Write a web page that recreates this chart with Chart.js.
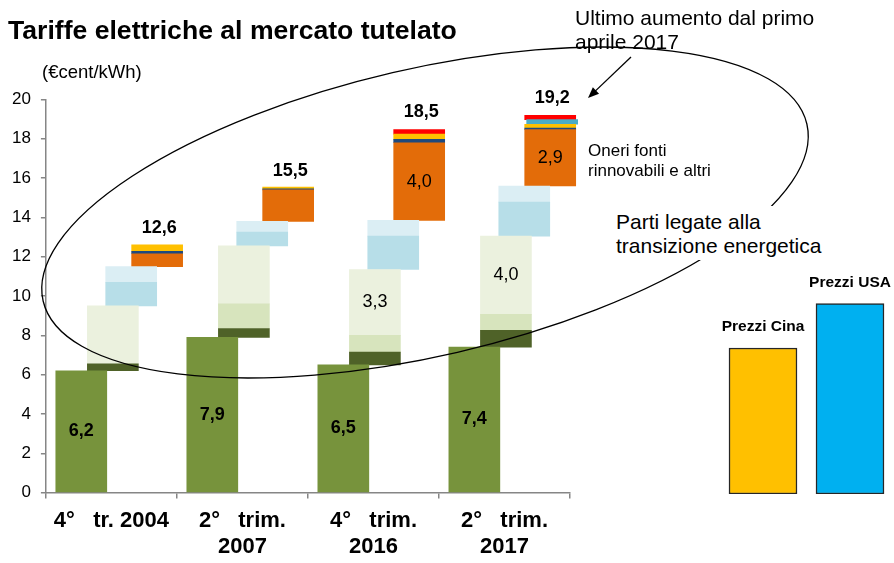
<!DOCTYPE html>
<html><head><meta charset="utf-8">
<script src="https://cdn.jsdelivr.net/npm/chart.js@4.4.1/dist/chart.umd.min.js"></script>
<style>
html,body{margin:0;padding:0;background:#fff;}
#wrap{position:relative;width:894px;height:563px;overflow:hidden;font-family:"Liberation Sans",Arial,sans-serif;}
canvas{position:absolute;top:0;}
.t{position:absolute;white-space:nowrap;color:#000;}
</style></head><body>
<div id="wrap">
<canvas id="main" width="894" height="563" style="left:0"></canvas>
<canvas id="side" width="179" height="563" style="left:715px"></canvas>
<div class="t" style="left:8px;top:17px;font-size:26.6px;line-height:26px;font-weight:bold">Tariffe elettriche al mercato tutelato</div>
<div class="t" style="left:42px;top:62px;font-size:18.5px;line-height:19px">(€cent/kWh)</div>
<div class="t" style="left:575px;top:6px;font-size:21px;line-height:24px">Ultimo aumento dal primo<br>aprile 2017</div>
<div class="t" style="left:588px;top:141px;font-size:17px;line-height:20px">Oneri fonti<br>rinnovabili e altri</div>
<div class="t" style="left:612px;top:206px;padding:4px 4px 2px 4px;font-size:21px;line-height:24px;background:#fff">Parti legate alla<br>transizione energetica</div>
</div>
<script>
// ---------- DATA ----------
const categories = ['4°   tr. 2004', ['2°   trim.', '2007'], ['4°   trim.', '2016'], ['2°   trim.', '2017']];
const totals = [12.6, 15.5, 18.5, 19.2];
const baseEnergy = [6.2, 7.9, 6.5, 7.4];
const baseLabels = ['6,2', '7,9', '6,5', '7,4'];
const segDarkGreen = [[6.2, 6.55], [7.9, 8.35], [6.5, 7.15], [7.4, 8.25]];
const segMidGreen = [null, [8.35, 9.6], [7.15, 8.0], [8.25, 9.07]];
const segLightGreen = [[6.55, 9.5], [9.6, 12.55], [8.0, 11.35], [9.07, 13.05]];
const lightGreenLabels = [null, null, '3,3', '4,0'];
const segBlue = [[9.5, 10.7], [12.55, 13.25], [11.35, 13.05], [13.05, 14.78]];
const segLightBlue = [[10.7, 11.5], [13.25, 13.8], [13.05, 13.85], [14.78, 15.6]];
const segOrange = [[11.5, 12.15], [13.8, 15.4], [13.85, 17.8], [15.6, 18.47]];
const orangeLabels = [null, null, '4,0', '2,9'];
const segNavy = [[12.15, 12.28], [15.4, 15.45], [17.8, 17.97], [18.47, 18.54]];
const segYellow = [[12.28, 12.6], [15.45, 15.55], [17.97, 18.24], [18.54, 18.74]];
const segTeal = [null, null, null, [18.74, 18.98]];
const segRed = [null, null, [18.24, 18.47], [18.98, 19.2]];
const yTicks = [0, 2, 4, 6, 8, 10, 12, 14, 16, 18, 20];
const sideCategories = ['Prezzi Cina', 'Prezzi USA'];
const sideValues = [7.4, 9.65];

// ---------- LAYOUT ----------
const COLS = [0.27, 0.511, 0.651, 0.849];
const FONT = '"Liberation Sans", Arial, sans-serif';
const fmt = v => v.toFixed(1).replace('.', ',');

function mk(vals, col, color, extra) {
  const data = [];
  vals.forEach((v, i) => { if (v) data.push({ x: i + COLS[col] + ((extra && extra.shift) || 0), y: v, cat: i }); });
  return Object.assign({ data, backgroundColor: color, barThickness: 51, grouped: false, clip: false, borderWidth: 0 }, extra || {});
}

const datasets = [
  mk(baseEnergy.map(v => [0, v]), 0, '#77933C', { segLabels: baseLabels, labelBold: true, labelSize: 18 }),
  mk(segDarkGreen, 1, '#4F6228'),
  mk(segMidGreen, 1, '#D7E4BD'),
  mk(segLightGreen, 1, '#EBF1DE', { segLabels: lightGreenLabels, labelBold: false, labelSize: 18 }),
  mk(segBlue, 2, '#B7DEE8'),
  mk(segLightBlue, 2, '#DBEEF4'),
  mk(segOrange, 3, '#E36C09', { segLabels: orangeLabels, labelBold: false, labelSize: 18 }),
  mk(segNavy, 3, '#1F497D'),
  mk(segYellow, 3, '#FFC000'),
  mk(segTeal, 3, '#4BACC6', { shift: 0.015 }),
  mk(segRed, 3, '#FF0000')
];

const annotPlugin = {
  id: 'annot',
  afterDatasetsDraw(chart) {
    const { ctx, scales: { x, y } } = chart;
    ctx.save();
    ctx.fillStyle = '#000';
    ctx.textAlign = 'center';
    chart.data.datasets.forEach((ds, di) => {
      if (!ds.segLabels) return;
      const meta = chart.getDatasetMeta(di);
      meta.data.forEach((el, j) => {
        const t = ds.segLabels[ds.data[j].cat];
        if (!t) return;
        ctx.font = (ds.labelBold ? 'bold ' : '') + ds.labelSize + 'px ' + FONT;
        ctx.textBaseline = 'middle';
        ctx.fillText(t, el.x, (el.y + el.base) / 2);
      });
    });
    ctx.font = 'bold 18px ' + FONT;
    ctx.textBaseline = 'alphabetic';
    totals.forEach((v, i) => {
      ctx.fillText(fmt(v), x.getPixelForValue(i + COLS[3]) + 2, y.getPixelForValue(v) - 12);
    });
    ctx.restore();
  },
  afterDraw(chart) {
    const ctx = chart.ctx;
    ctx.save();
    ctx.strokeStyle = '#000';
    ctx.lineWidth = 1.3;
    ctx.beginPath();
    ctx.ellipse(425, 212.5, 392, 143.5, -13.05 * Math.PI / 180, 0, Math.PI * 2);
    ctx.stroke();
    // arrow
    const x1 = 631, y1 = 57, x2 = 588, y2 = 98;
    const ang = Math.atan2(y2 - y1, x2 - x1);
    ctx.beginPath();
    ctx.moveTo(x1, y1);
    ctx.lineTo(x2 - 6 * Math.cos(ang), y2 - 6 * Math.sin(ang));
    ctx.stroke();
    ctx.fillStyle = '#000';
    ctx.beginPath();
    ctx.moveTo(x2, y2);
    ctx.lineTo(x2 - 11 * Math.cos(ang) + 4.5 * Math.sin(ang), y2 - 11 * Math.sin(ang) - 4.5 * Math.cos(ang));
    ctx.lineTo(x2 - 11 * Math.cos(ang) - 4.5 * Math.sin(ang), y2 - 11 * Math.sin(ang) + 4.5 * Math.cos(ang));
    ctx.closePath();
    ctx.fill();
    ctx.restore();
  }
};

new Chart(document.getElementById('main'), {
  type: 'bar',
  data: { datasets },
  options: {
    responsive: false,
    animation: false,
    events: [],
    layout: { padding: { left: 2, top: 99.5, right: 324, bottom: 0 } },
    plugins: { legend: { display: false }, tooltip: { enabled: false } },
    scales: {
      x: {
        type: 'linear', min: 0, max: 4, offset: false,
        afterBuildTicks: s => { s.ticks = [0, 0.5, 1, 1.5, 2, 2.5, 3, 3.5, 4].map(v => ({ value: v })); },
        afterFit: s => { s.height -= 6.5; },
        grid: {
          offset: false, drawOnChartArea: false, tickLength: 6, lineWidth: 1.5,
          tickColor: c => (c.tick && c.tick.value % 1 === 0) ? '#868686' : 'rgba(0,0,0,0)'
        },
        border: { color: '#868686', width: 1.5 },
        ticks: {
          autoSkip: false, maxRotation: 0, minRotation: 0, padding: 9.5, color: '#000',
          font: { family: FONT, size: 22, weight: 'bold', lineHeight: 1.18 },
          callback: v => (v % 1 === 0.5) ? categories[Math.floor(v)] : ''
        }
      },
      y: {
        min: 0, max: 20,
        afterBuildTicks: s => { s.ticks = yTicks.map(v => ({ value: v })); },
        grid: { drawOnChartArea: false, tickLength: 5, color: '#868686', lineWidth: 1.5 },
        border: { color: '#868686', width: 1.5 },
        ticks: { padding: 10, color: '#000', font: { family: FONT, size: 17 } }
      }
    }
  },
  plugins: [annotPlugin]
});

const sideLabelPlugin = {
  id: 'sideLabels',
  afterDatasetsDraw(chart) {
    const ctx = chart.ctx;
    const meta = chart.getDatasetMeta(0);
    ctx.save();
    ctx.font = 'bold 15.5px ' + FONT;
    ctx.fillStyle = '#000';
    ctx.textAlign = 'center';
    ctx.textBaseline = 'middle';
    meta.data.forEach((el, i) => ctx.fillText(sideCategories[i], el.x, el.y - 21));
    ctx.restore();
  }
};

new Chart(document.getElementById('side'), {
  type: 'bar',
  data: {
    labels: sideCategories,
    datasets: [{ data: sideValues, backgroundColor: ['#FFC000', '#00B0F0'], borderColor: '#262626', borderWidth: 1.5, borderSkipped: false, barThickness: 68 }]
  },
  options: {
    responsive: false, animation: false, events: [],
    layout: { padding: { left: 4.5, right: 0.5, top: 99.5, bottom: 69 } },
    plugins: { legend: { display: false }, tooltip: { enabled: false } },
    scales: { x: { display: false }, y: { display: false, min: 0, max: 20 } }
  },
  plugins: [sideLabelPlugin]
});
</script>
</body></html>
